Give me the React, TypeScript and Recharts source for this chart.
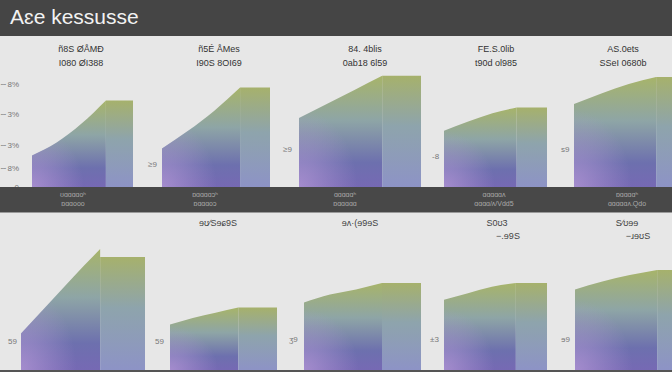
import { AreaChart, Area, XAxis, YAxis } from 'recharts';

// values per panel: four points on the rising part, then the flat top
const topRise = [
  [27, 38, 54, 74],
  [33, 48, 65, 85],
  [59, 71, 83, 95],
  [48, 56, 63, 68],
  [71, 80, 88, 94],
];
const topFlat = [74, 85, 95, 68, 94];
const topSpan = [1.1, 1.15, 1.4, 1.25, 1.2];

const bottomRise = [
  [28, 50, 72, 93],
  [35, 40, 44, 48],
  [52, 58, 62, 67],
  [54, 59, 64, 67],
  [62, 68, 73, 77],
];
const bottomFlat = [87, 48, 67, 67, 77];
const bottomSpan = [1.7, 1.7, 1.5, 1.3, 1.2];

const yTicks = [0, 16, 36, 62, 88];
const yTickLabels = ['0', '∼8%', '∼3%', '∼3%', '∼8%'];

const title = 'Aɛe kessusse';
const topHeads = [
  ['ñ8S ØÅMÐ', 'I080 ØI388'],
  ['ñ5É ÅMes', 'I90S 8OI69'],
  ['84. 4blis', '0ab18 6l59'],
  ['FE.S.0lib', 't90d ol985'],
  ['AS.0ets', 'SSeI 0680b'],
];
const bandLabels = [
  ['ʊɑɑɑɑoʰ', 'ɒɑɑooo'],
  ['ɒɑɑɑɑɔʰ', 'ɒɑɑɑoɔ'],
  ['ɑɑɑɑɑʰ', 'ɒɑɑɑɑɑ'],
  ['ɑɑɑɑɑʌ', 'ɑɑɑɑ/ʌ/Vdd5'],
  ['ɒɑɑɑɑʰ', 'ɑɑɑɑɑʌ.Qdo'],
];
const topSide = ['', '≥9', '≥9', '-8', 's9'];
const bottomHeads = [
  [],
  ['ɘʊ∕Sɘɕ9S'],
  ['ɘʌ·(ɘ9ɘS'],
  ['S0ʊ3', '−.ɘ9S'],
  ['S∕ʊɘɘ', '−ɹɘʊS'],
];
const bottomSide = ['59', '59', 'ʒ9', '±3', 'ɘ9'];

// layout
const topPanels = [
  { left: 32, width: 101 },
  { left: 162, width: 108 },
  { left: 299, width: 122 },
  { left: 444, width: 103 },
  { left: 574, width: 115 },
];
const bottomPanels = [
  { left: 21, width: 124 },
  { left: 170, width: 107 },
  { left: 304, width: 117 },
  { left: 444, width: 103 },
  { left: 575, width: 115 },
];
const topHeadX = [81, 219, 365, 496, 623];
const bandX = [73, 205, 345, 494, 627];
const topSideXY = [[0, 0], [148, 160], [283, 145], [432, 152], [561, 145]];
const bottomHeadX = [0, 218, 360, 497, 627];
const bottomSideXY = [[8, 337], [155, 337], [289, 335], [430, 335], [561, 335]];

const FONT = '"Liberation Sans", Arial, sans-serif';

function buildRows(rise: number[], flat: number, span: number) {
  return [
    { x: 0, rise: rise[0] },
    { x: 1, rise: rise[1] },
    { x: 2, rise: rise[2] },
    { x: 3, rise: rise[3], flat },
    { x: 3 + span, flat },
  ];
}

interface PanelProps {
  id: string;
  rise: number[];
  flat: number;
  span: number;
  left: number;
  top: number;
  width: number;
  height: number;
  withAxis?: boolean;
}

function Panel({ id, rise, flat, span, left, top, width, height, withAxis }: PanelProps) {
  const rows = buildRows(rise, flat, span);
  const axisW = withAxis ? 32 : 0;
  const padB = withAxis ? 6 : 0;
  return (
    <div style={{ position: 'absolute', left: left - axisW, top }}>
      <AreaChart width={width + axisW} height={height + padB} data={rows} margin={{ top: 0, right: 0, bottom: padB, left: 0 }}>
        <defs>
          <linearGradient id={`rise-${id}`} x1="0" y1="0" x2="0" y2="1">
            <stop offset="0%" stopColor="#a7b46a" />
            <stop offset="40%" stopColor="#8ea5a6" />
            <stop offset="78%" stopColor="#6d70ae" />
            <stop offset="100%" stopColor="#7669b4" />
          </linearGradient>
          <radialGradient id={`glow-${id}`} cx="0" cy="1" r="0.7">
            <stop offset="0%" stopColor="#b89bd8" stopOpacity={0.7} />
            <stop offset="100%" stopColor="#b89bd8" stopOpacity={0} />
          </radialGradient>
          <linearGradient id={`flat-${id}`} x1="0" y1="0" x2="0" y2="1">
            <stop offset="0%" stopColor="#a6b16c" />
            <stop offset="45%" stopColor="#8ea4ac" />
            <stop offset="100%" stopColor="#8d93c6" />
          </linearGradient>
        </defs>
        <XAxis dataKey="x" type="number" domain={[0, 3 + span]} hide />
        <YAxis
          domain={[0, 100]}
          hide={!withAxis}
          width={axisW}
          ticks={yTicks}
          interval={0}
          tickFormatter={(v: number) => yTickLabels[yTicks.indexOf(v)] ?? ''}
          axisLine={false}
          tickLine={false}
          tickSize={0}
          tickMargin={13}
          tick={{ fontSize: 8, fill: '#777', fontFamily: FONT }}
        />
        <Area dataKey="rise" type="monotone" stroke="none" fill={`url(#rise-${id})`} fillOpacity={1} dot={false} activeDot={false} isAnimationActive={false} />
        <Area dataKey="rise" type="monotone" stroke="none" fill={`url(#glow-${id})`} fillOpacity={1} dot={false} activeDot={false} isAnimationActive={false} />
        <Area dataKey="flat" type="linear" stroke="none" fill={`url(#flat-${id})`} fillOpacity={1} dot={false} activeDot={false} isAnimationActive={false} />
      </AreaChart>
    </div>
  );
}

const textAt = (x: number, y: number, extra: object = {}) => ({
  position: 'absolute' as const,
  left: x,
  top: y,
  whiteSpace: 'nowrap' as const,
  ...extra,
});

export default function App() {
  return (
    <div style={{ position: 'absolute', left: 0, top: 0, width: 672, height: 372, overflow: 'hidden', background: '#e7e7e7', fontFamily: FONT }}>
      <div style={{ position: 'absolute', left: 0, top: 0, width: 672, height: 36, background: '#454545' }} />
      <div style={textAt(10, 5, { color: '#f2f2f2', fontSize: 21 })}>{title}</div>

      {topHeads.map((lines, i) => (
        <div key={`th${i}`} style={textAt(topHeadX[i] - 40, 42, { width: 80, textAlign: 'center', fontSize: 9, lineHeight: '14px', color: '#333' })}>
          {lines.map((t, j) => <div key={j}>{t}</div>)}
        </div>
      ))}

      {topPanels.map((p, i) => (
        <Panel key={`tp${i}`} id={`t${i}`} rise={topRise[i]} flat={topFlat[i]} span={topSpan[i]} left={p.left} top={70} width={p.width} height={117} withAxis={i === 0} />
      ))}
      {topSide.map((t, i) => t && (
        <div key={`ts${i}`} style={textAt(topSideXY[i][0], topSideXY[i][1], { fontSize: 8, color: '#777' })}>{t}</div>
      ))}

      <div style={{ position: 'absolute', left: 0, top: 187, width: 672, height: 25, background: '#484848', borderBottom: '1px solid #9a9a9a' }} />
      {bandLabels.map((lines, i) => (
        <div key={`bl${i}`} style={textAt(bandX[i] - 35, 190, { width: 70, textAlign: 'center', fontSize: 7, lineHeight: '9px', color: '#a8a8a8' })}>
          {lines.map((t, j) => <div key={j}>{t}</div>)}
        </div>
      ))}
      {/* zero tick label sits on the band */}

      {bottomHeads.map((lines, i) => lines.length > 0 && (
        <div key={`bh${i}`} style={textAt(bottomHeadX[i] - 35, 217, { width: 70, textAlign: 'center', fontSize: 9, lineHeight: '13px', color: '#444' })}>
          {lines.map((t, j) => <div key={j} style={{ paddingLeft: j === 1 ? 22 : 0 }}>{t}</div>)}
        </div>
      ))}

      {bottomPanels.map((p, i) => (
        <Panel key={`bp${i}`} id={`b${i}`} rise={bottomRise[i]} flat={bottomFlat[i]} span={bottomSpan[i]} left={p.left} top={240} width={p.width} height={130} />
      ))}
      {bottomSide.map((t, i) => (
        <div key={`bs${i}`} style={textAt(bottomSideXY[i][0], bottomSideXY[i][1], { fontSize: 8, color: '#777' })}>{t}</div>
      ))}
      <div style={{ position: 'absolute', left: 0, top: 370, width: 672, height: 2, background: '#555' }} />
    </div>
  );
}
